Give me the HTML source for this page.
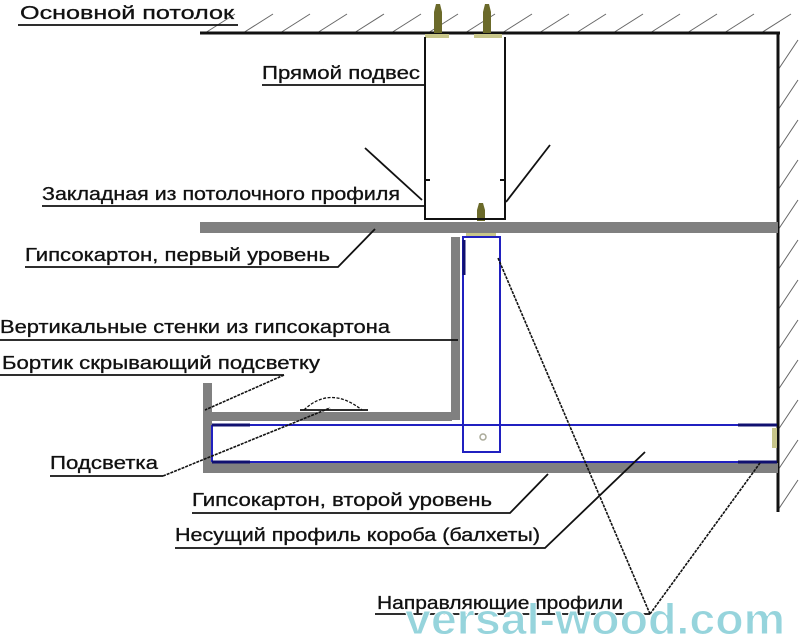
<!DOCTYPE html>
<html><head><meta charset="utf-8"><style>
html,body{margin:0;padding:0;background:#fff}
svg{display:block}
text{font-family:"Liberation Sans",sans-serif;font-size:18px;fill:#111;stroke:#111;stroke-width:0.3}
</style></head><body>
<svg width="800" height="644" viewBox="0 0 800 644" xmlns="http://www.w3.org/2000/svg">
<g stroke="#666" stroke-width="1">
<line x1="205" y1="33" x2="235" y2="14"/><line x1="243" y1="33" x2="273" y2="14"/><line x1="280" y1="33" x2="310" y2="14"/>
<line x1="317" y1="33" x2="347" y2="14"/><line x1="354" y1="33" x2="384" y2="14"/><line x1="391" y1="33" x2="421" y2="14"/>
<line x1="428" y1="33" x2="458" y2="14"/><line x1="465" y1="33" x2="495" y2="14"/><line x1="502" y1="33" x2="532" y2="14"/>
<line x1="539" y1="33" x2="569" y2="14"/><line x1="576" y1="33" x2="606" y2="14"/><line x1="613" y1="33" x2="643" y2="14"/>
<line x1="650" y1="33" x2="680" y2="14"/><line x1="687" y1="33" x2="717" y2="14"/><line x1="724" y1="33" x2="754" y2="14"/>
<line x1="761" y1="33" x2="791" y2="14"/>
<line x1="778" y1="70" x2="798" y2="40"/><line x1="778" y1="110" x2="798" y2="80"/><line x1="778" y1="150" x2="798" y2="120"/>
<line x1="778" y1="190" x2="798" y2="160"/><line x1="778" y1="230" x2="798" y2="200"/><line x1="778" y1="270" x2="798" y2="240"/>
<line x1="778" y1="310" x2="798" y2="280"/><line x1="778" y1="350" x2="798" y2="320"/><line x1="778" y1="390" x2="798" y2="360"/>
<line x1="778" y1="430" x2="798" y2="400"/><line x1="778" y1="470" x2="798" y2="440"/><line x1="778" y1="510" x2="798" y2="480"/>
</g>
<line x1="200" y1="33" x2="780" y2="33" stroke="#111" stroke-width="3"/>
<line x1="778" y1="32" x2="778" y2="512" stroke="#111" stroke-width="3"/>
<g fill="#6b6a2a">
<path d="M434 33 L434 12 L436 4 L440 4 L442 12 L442 33 Z"/><path d="M483 33 L483 12 L485 4 L489 4 L491 12 L491 33 Z"/>
<rect x="425" y="34" width="24" height="4" fill="#c8c68a"/><rect x="474" y="34" width="28" height="4" fill="#c8c68a"/>
<path d="M477 221 L477 210 L479 203 L483 203 L485 210 L485 221 Z"/><rect x="466" y="231" width="30" height="5" fill="#c8c68a"/>
</g>
<g stroke="#111" stroke-width="2" fill="none">
<polyline points="425,37 425,219 505,219 505,37"/>
<line x1="425" y1="180" x2="430" y2="180"/><line x1="500" y1="180" x2="505" y2="180"/>
</g>
<rect x="200" y="222" width="578" height="11" fill="#808080"/>
<rect x="451" y="237" width="9" height="183" fill="#808080"/>
<rect x="212" y="412" width="240" height="9" fill="#808080"/>
<rect x="203" y="383" width="9" height="90" fill="#808080"/>
<rect x="205" y="463" width="573" height="10" fill="#808080"/>
<g stroke="#2020c0" stroke-width="2" fill="none">
<rect x="463" y="237" width="37" height="215"/>
<line x1="212" y1="425" x2="777" y2="425"/><line x1="212" y1="462" x2="777" y2="462"/>
<line x1="212" y1="425" x2="212" y2="462"/>
</g>
<g stroke="#101070" stroke-width="3">
<line x1="212" y1="425" x2="250" y2="425"/><line x1="212" y1="462" x2="250" y2="462"/>
<line x1="738" y1="425" x2="777" y2="425"/><line x1="738" y1="462" x2="777" y2="462"/>
<line x1="464" y1="240" x2="464" y2="275"/>
</g>
<circle cx="483" cy="437" r="3" fill="none" stroke="#aa9" stroke-width="1.5"/>
<rect x="772" y="428" width="5" height="20" fill="#c8c68a"/>
<path d="M304 410 Q330 385 362 410" fill="none" stroke="#111" stroke-width="1.3" stroke-dasharray="3,1.5"/>
<line x1="300" y1="410" x2="368" y2="410" stroke="#111" stroke-width="1.8"/>
<g stroke="#111" stroke-width="1.8" fill="none">
<polyline points="18,25 238,25"/>
<polyline points="262,85 425,85"/>
<polyline points="42,206 425,206"/>
<line x1="365" y1="148" x2="422" y2="200"/><line x1="550" y1="145" x2="506" y2="202"/>
<polyline points="25,267 338,267 375,229"/>
<polyline points="0,340 458,340"/>
<polyline points="0,375 284,375"/>
<polyline points="50,476 163,476"/>
<polyline points="192,513 510,513 548,474"/>
<polyline points="175,548 545,548 645,452"/>
<polyline points="375,614 650,614"/>
</g>
<g stroke="#111" stroke-width="1.6" stroke-dasharray="3,1" fill="none">
<line x1="284" y1="375" x2="205" y2="410"/>
<line x1="163" y1="476" x2="330" y2="408"/>
<line x1="650" y1="614" x2="498" y2="258"/>
<line x1="650" y1="614" x2="760" y2="463"/>
</g>
<text x="20" y="19" textLength="214" lengthAdjust="spacingAndGlyphs">Основной потолок</text>
<text x="262" y="79" textLength="158" lengthAdjust="spacingAndGlyphs">Прямой подвес</text>
<text x="42" y="200" textLength="358" lengthAdjust="spacingAndGlyphs">Закладная из потолочного профиля</text>
<text x="25" y="261" textLength="305" lengthAdjust="spacingAndGlyphs">Гипсокартон, первый уровень</text>
<text x="0" y="333" textLength="390" lengthAdjust="spacingAndGlyphs">Вертикальные стенки из гипсокартона</text>
<text x="2" y="369" textLength="318" lengthAdjust="spacingAndGlyphs">Бортик скрывающий подсветку</text>
<text x="50" y="469" textLength="108" lengthAdjust="spacingAndGlyphs">Подсветка</text>
<text x="192" y="506" textLength="300" lengthAdjust="spacingAndGlyphs">Гипсокартон, второй уровень</text>
<text x="175" y="541" textLength="365" lengthAdjust="spacingAndGlyphs">Несущий профиль короба (балхеты)</text>
<text x="377" y="609" textLength="246" lengthAdjust="spacingAndGlyphs">Направляющие профили</text>
<text x="405" y="634" textLength="380" lengthAdjust="spacingAndGlyphs" style="font-size:44px;font-weight:bold;fill:#96d4dc;stroke:#fff;stroke-width:1">versal-wood.com</text>
</svg>
</body></html>
